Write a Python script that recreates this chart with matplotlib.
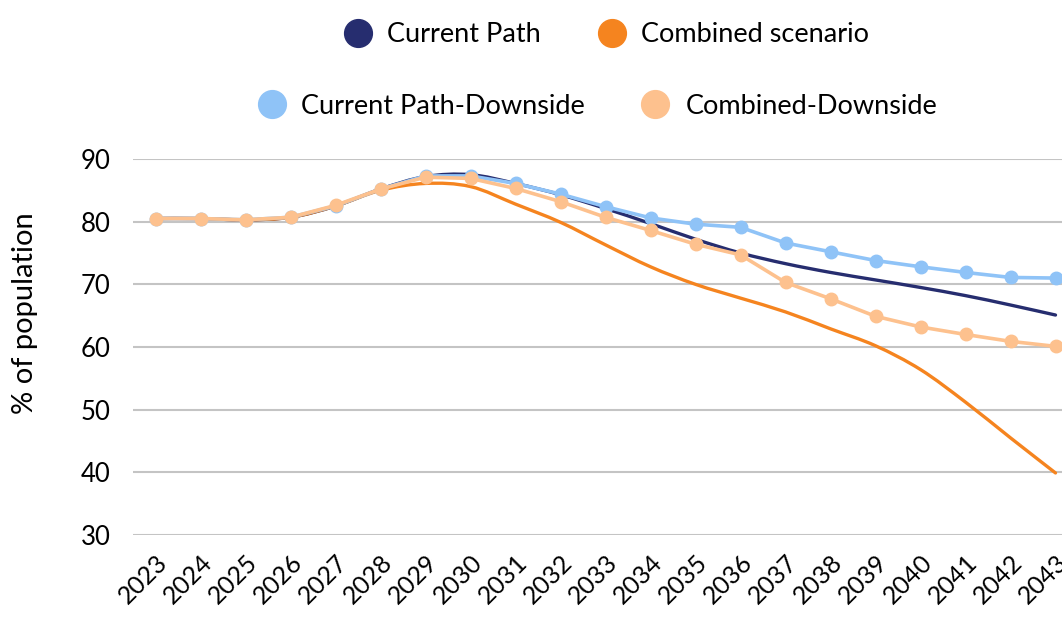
import numpy as np
import matplotlib.pyplot as plt
from matplotlib.path import Path
from matplotlib.patches import PathPatch
from matplotlib.lines import Line2D

plt.rcParams['font.family'] = ['Lato', 'DejaVu Sans']

years = list(range(2023, 2044))

current_path = [80.5, 80.5, 80.3, 80.7, 82.5, 85.2, 87.2, 87.5, 86.1, 84.3, 82.1,
                79.7, 77.2, 75.0, 73.3, 71.9, 70.7, 69.5, 68.2, 66.7, 65.1]
combined = [80.5, 80.5, 80.3, 80.7, 82.5, 85.0, 86.1, 85.6, 82.8, 79.9, 76.3,
            72.8, 70.0, 67.8, 65.6, 62.9, 60.2, 56.4, 51.2, 45.5, 39.9]
current_downside = [80.5, 80.5, 80.3, 80.7, 82.5, 85.2, 87.3, 87.3, 86.1, 84.4, 82.4,
                    80.6, 79.6, 79.1, 76.6, 75.2, 73.8, 72.8, 71.9, 71.1, 71.0]
combined_downside = [80.5, 80.5, 80.3, 80.7, 82.6, 85.2, 87.1, 86.9, 85.3, 83.2, 80.7,
                     78.6, 76.4, 74.7, 70.3, 67.7, 64.9, 63.2, 62.0, 60.9, 60.1]

NAVY = '#262d6f'
ORANGE = '#f5841f'
LIGHT_BLUE = '#8fc3f7'
LIGHT_ORANGE = '#fdc18e'


def smooth_path(x, y):
    """Catmull-Rom curve through the points, as cubic Bezier segments."""
    pts = np.column_stack([x, y]).astype(float)
    ext = np.vstack([pts[0], pts, pts[-1]])
    verts = [pts[0]]
    codes = [Path.MOVETO]
    for i in range(1, len(ext) - 2):
        p0, p1, p2, p3 = ext[i - 1], ext[i], ext[i + 1], ext[i + 2]
        verts += [p1 + (p2 - p0) / 6, p2 - (p3 - p1) / 6, p2]
        codes += [Path.CURVE4] * 3
    return Path(verts, codes)


fig = plt.figure(figsize=(10.62, 6.19), dpi=100)
ax = fig.add_axes([133 / 1062, 84 / 619, 929 / 1062, 376 / 619])

# smoothed scenario lines
for series, color in [(current_path, NAVY), (combined, ORANGE)]:
    ax.add_patch(PathPatch(smooth_path(years, series), facecolor='none',
                           edgecolor=color, lw=2.4, zorder=3, capstyle='round'))

# downside lines with yearly markers
ax.plot(years, current_downside, color=LIGHT_BLUE, lw=2.6, marker='o', ms=9,
        zorder=4, clip_on=False)
ax.plot(years, combined_downside, color=LIGHT_ORANGE, lw=2.6, marker='o', ms=9,
        zorder=5, clip_on=False)

ax.set_xlim(2022.5, 2022.5 + 929 / 45)
ax.set_ylim(30, 90)
ax.set_yticks(range(30, 91, 10))
ax.set_xticks(years)
ax.set_xticklabels([str(y) for y in years], rotation=45, ha='right', va='top',
                   rotation_mode='anchor')
ax.tick_params(length=0, colors='black')
ax.tick_params(axis='y', pad=16, labelsize=18.5)
ax.tick_params(axis='x', pad=11, labelsize=18)
ax.grid(axis='y', color='#c4c4c4', lw=1.5)
ax.set_axisbelow(True)
for s in ax.spines.values():
    s.set_visible(False)

ax.set_ylabel('% of population', fontsize=21, va='center')
ax.yaxis.set_label_coords((25 - 133) / 929, (535 - 313) / 376)


def handle(color):
    return Line2D([], [], ls='none', marker='o', ms=20, color=color)


kw = dict(loc='center', ncol=2, frameon=False, fontsize=19.5,
          handletextpad=0.6, columnspacing=2.1, handlelength=1.0)
leg1 = ax.legend([handle(NAVY), handle(ORANGE)],
                 ['Current Path', 'Combined scenario'],
                 bbox_to_anchor=(0.51, 1.33), **kw)
ax.add_artist(leg1)
ax.legend([handle(LIGHT_BLUE), handle(LIGHT_ORANGE)],
          ['Current Path-Downside', 'Combined-Downside'],
          bbox_to_anchor=(0.5, 1.14), **kw)

fig.savefig('out.png', dpi=100)
